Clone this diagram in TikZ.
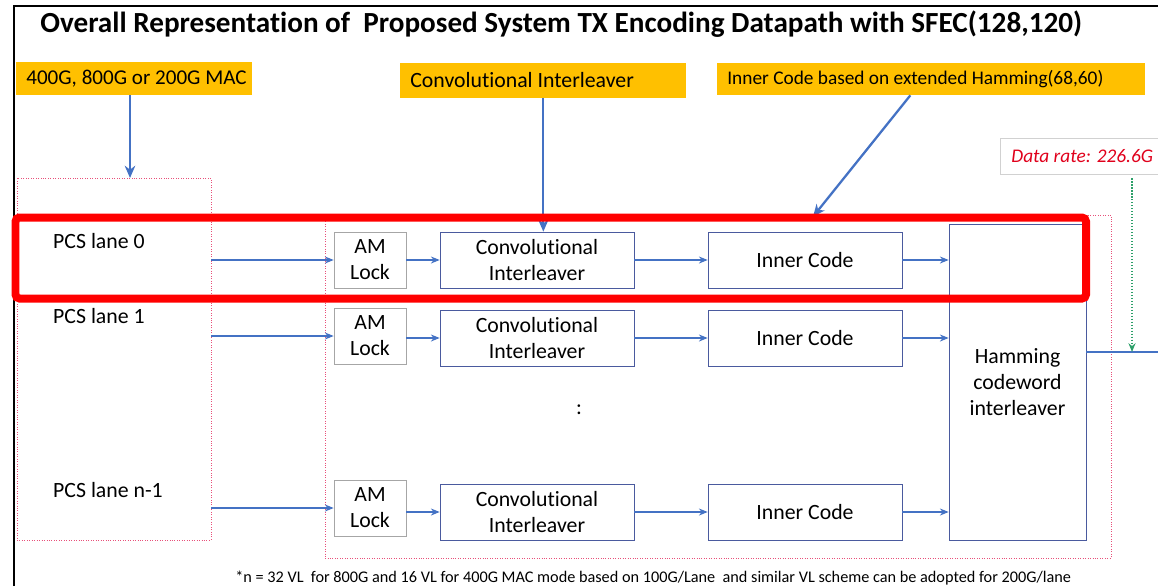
\documentclass[tikz,border=0pt]{standalone}
\usepackage{fontspec}
\setmainfont{Carlito}[Ligatures = NoCommon]
\usetikzlibrary{arrows.meta}

\definecolor{macorange}{HTML}{FFC000}
\definecolor{flowblue}{HTML}{4472C4}
\definecolor{boxblue}{HTML}{4A5A9E}
\definecolor{amgray}{HTML}{A6A6A6}
\definecolor{grouppink}{HTML}{E8507A}
\definecolor{rategreen}{HTML}{2EA06A}
\definecolor{ratered}{HTML}{E0001B}

\newcommand{\tagtext}[2]{\makebox[#1][l]{#2}}

\begin{document}
\begin{tikzpicture}[
					x = 0.02cm, y = -0.02cm,
					every node/.style = {font = \fontsize{12.4}{14.8}\selectfont},
					tag/.style = {fill = macorange, anchor = west, inner xsep = 0.2cm, inner ysep = 0pt},
					amlock/.style = {draw = amgray, minimum width = 1.44cm, minimum height = 1.12cm, align = center, inner sep = 0pt},
					stage/.style = {draw = boxblue, minimum width = 3.88cm, minimum height = 1.12cm, align = center, inner sep = 0pt},
					group/.style = {draw = grouppink, densely dotted, inner sep = 0pt},
					flow/.style = {draw = flowblue, line width = 0.6pt, -{Stealth[length = 5pt, width = 4pt]}},
					pointer/.style = {draw = flowblue, line width = 1.3pt, -{Stealth[length = 7pt, width = 6pt]}}
					]

					\useasboundingbox (0,0) rectangle (1158,586);
					\clip (0,0) rectangle (1158,586);

					% slide frame and title
					\draw[line width = 1.5pt] (14,586) -- (14,6) -- (1160,6);
					\node[anchor = west, inner sep = 0pt, font = \fontsize{16.6}{18}\selectfont\bfseries] (title) at (40,24)
						{Overall Representation of~~Proposed System TX Encoding Datapath with SFEC(128,120)};

					% labels on top
					\node[tag, minimum height = 0.66cm, font = \fontsize{12}{14}\selectfont] (mac) at (16,78.5) {\tagtext{4.32cm}{400G, 800G or 200G MAC}};
					\node[tag, minimum height = 0.7cm] (cilab) at (400,80.5) {\tagtext{5.32cm}{Convolutional Interleaver}};
					\node[tag, minimum height = 0.64cm, font = \fontsize{11}{13}\selectfont] (iclab) at (717,79) {\tagtext{8.16cm}{Inner Code based on extended Hamming(68,60)}};
					\node[draw = black!18, anchor = west, minimum height = 0.72cm, inner xsep = 0.22cm, text = ratered, font = \fontsize{11}{13}\selectfont\itshape] (rate) at (1000,156) {Data rate: 226.6G};

					% groups
					\node[group, minimum width = 3.88cm, minimum height = 7.24cm] (pcs) at (114,359) {};
					\node[group, minimum width = 15.72cm, minimum height = 6.86cm] (enc) at (718,386.5) {};

					\node[anchor = west] (lane0) at (47,241) {PCS lane 0};
					\node[anchor = west] (lane1) at (47,316) {PCS lane 1};
					\node[anchor = west] (lanen) at (47,490) {PCS lane n-1};

					% lanes
					\node[amlock] (am0) at (370,260) {AM\\Lock};
					\node[amlock] (am1) at (370,336) {AM\\Lock};
					\node[amlock] (amn) at (370,508) {AM\\Lock};

					\node[stage] (ci0) at (537,260) {Convolutional\\Interleaver};
					\node[stage] (ci1) at (537,338) {Convolutional\\Interleaver};
					\node[stage] (cin) at (537,512) {Convolutional\\Interleaver};

					\node[stage] (ic0) at (805,260) {Inner Code};
					\node[stage] (ic1) at (805,338) {Inner Code};
					\node[stage] (icn) at (805,512) {Inner Code};

					\node[stage, minimum width = 2.74cm, minimum height = 6.32cm] (ham) at (1017.5,382) {Hamming\\codeword\\interleaver};

					\node (dots) at (579,410) {:};

					\foreach \r in {0,1,n}{
						\draw[flow] (pcs.east |- am\r) -- (am\r);
						\draw[flow] (am\r.east |- ci\r) -- (ci\r);
						\draw[flow] (ci\r) -- (ic\r);
						\draw[flow] (ic\r) -- (ic\r -| ham.west);
					}

					% output and data rate tap
					\coordinate (out) at (1160,352);
					\coordinate (tap) at (1132,352);
					\draw[draw = flowblue, line width = 0.6pt] (out -| ham.east) -- (out);
					\draw[draw = rategreen, densely dotted, line width = 0.7pt, -{Stealth[length = 5pt, width = 4pt]}] (tap |- rate.south) ++(0,4) -- (tap);

					% pointers from the labels
					\draw[pointer] (130,95) -- (130,178);
					\draw[pointer] (cilab.south) -- (cilab.south |- ci0.north);
					\draw[pointer] ([xshift = -0.42cm]iclab.south) -- ([shift = {(0.16cm,0.3cm)}]ic0.north);

					% highlight
					\draw[red, line width = 0.16cm, rounded corners = 0.08cm] (15.5,217.5) rectangle (1086,298.5);

					\node[anchor = west, inner sep = 0pt, font = \fontsize{9.25}{11}\selectfont] (note) at (235,578)
						{*n = 32 VL~~for 800G and 16 VL for 400G MAC mode based on 100G/Lane~~and similar VL scheme can be adopted for 200G/lane};

				\end{tikzpicture}
\end{document}
